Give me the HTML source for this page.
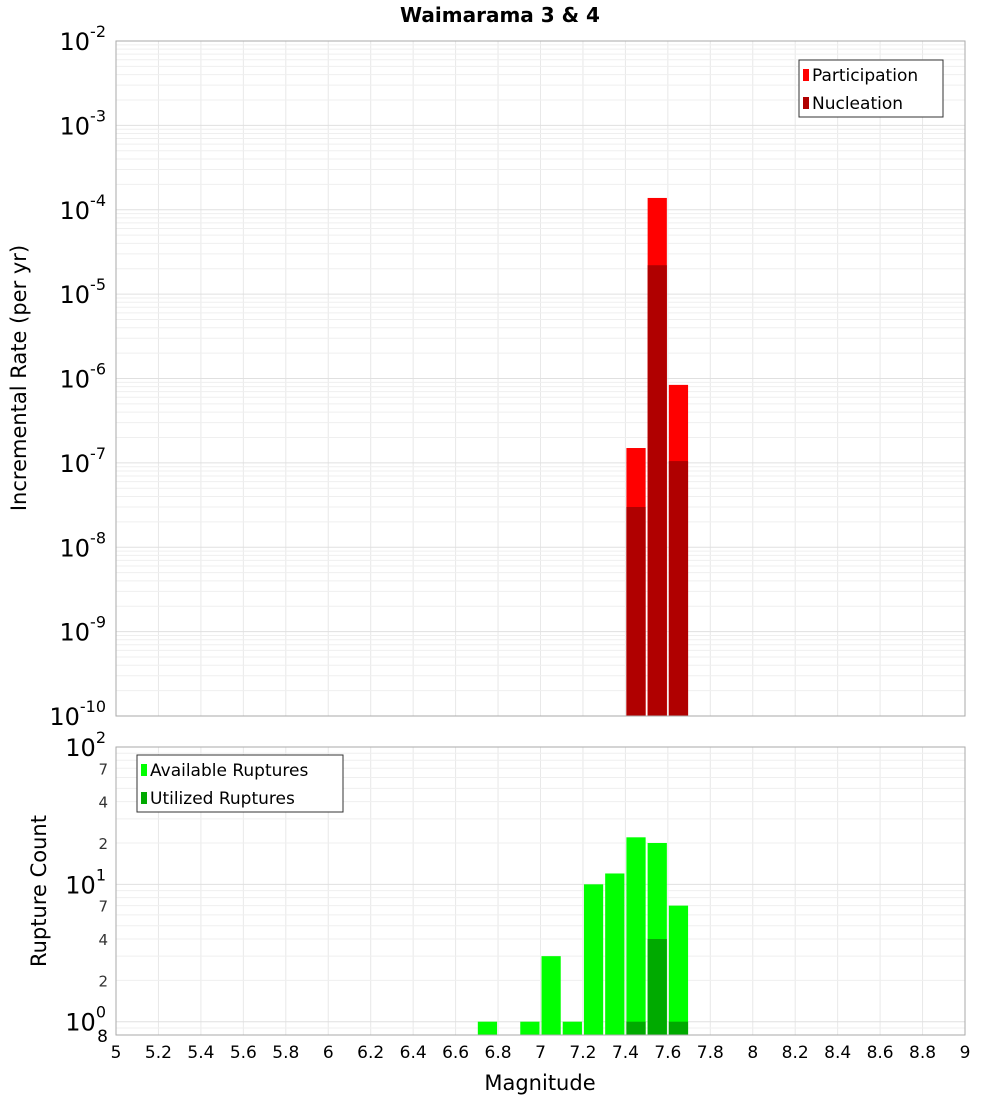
<!DOCTYPE html>
<html><head><meta charset="utf-8"><style>
body{margin:0;background:#fff;}
svg{display:block;font-family:"DejaVu Sans","Liberation Sans",sans-serif;}
</style></head><body>
<svg id="chart" width="1000" height="1100" xmlns="http://www.w3.org/2000/svg">
<text x="500" y="22" text-anchor="middle" font-size="20" font-weight="bold">Waimarama 3 &amp; 4</text>
<g id="gtop"></g>
<g id="gbot"></g>
<text x="540" y="1090" text-anchor="middle" font-size="21">Magnitude</text>
<text transform="translate(26,378) rotate(-90)" text-anchor="middle" font-size="21">Incremental Rate (per yr)</text>
<text transform="translate(46,891) rotate(-90)" text-anchor="middle" font-size="21">Rupture Count</text>
</svg>
<script>
const rateMags=[7.45,7.55,7.65];
const participation=[1.5e-7,1.38e-4,8.4e-7];
const nucleation=[3e-8,2.2e-5,1.05e-7];
const countMags=[6.75,6.95,7.05,7.15,7.25,7.35,7.45,7.55,7.65];
const available=[1,1,3,1,10,12,22,20,7];
const utilizedMags=[7.45,7.55,7.65];
const utilized=[1,4,1];
const xTicks=[5,5.2,5.4,5.6,5.8,6,6.2,6.4,6.6,6.8,7,7.2,7.4,7.6,7.8,8,8.2,8.4,8.6,8.8,9];
const topDecades=[-10,-9,-8,-7,-6,-5,-4,-3,-2];
const botDecades=[0,1,2];
const botMinorLabels=[2,4,7];

(function(){
const NS="http://www.w3.org/2000/svg";
const L=116,R=965;
const x=v=>L+(v-5)/4*(R-L);
const T0=41,T1=716;
const yTop=v=>T0+(-2-Math.log10(v))/8*(T1-T0);
const B0=747,B1=1035,bMin=0.8;
const yBot=v=>B0+(2-Math.log10(v))/(2-Math.log10(bMin))*(B1-B0);
function mk(p,tag,a,txt){const e=document.createElementNS(NS,tag);for(const k in a)e.setAttribute(k,a[k]);if(txt!==undefined)e.textContent=txt;p.appendChild(e);return e;}
const gTop=document.getElementById('gtop'),gBot=document.getElementById('gbot');

function frame(g,y0,y1){
  for(const t of xTicks){const l=mk(g,'line',{x1:x(t),x2:x(t),y1:y0,y2:y1,stroke:'#e8e8e8'});
    
    }
}
frame(gTop,T0,T1);
for(let d=-10;d<-2;d++)for(let m=1;m<10;m++){const v=m*Math.pow(10,d);const yy=yTop(v);
  const l=mk(gTop,'line',{x1:L,x2:R,y1:yy,y2:yy,stroke:m==1?'#e0e0e0':'#efefef'});
  
  }
frame(gBot,B0,B1);
for(let d=-1;d<2;d++)for(let m=1;m<10;m++){const v=m*Math.pow(10,d);if(v<bMin)continue;const yy=yBot(v);
  const l=mk(gBot,'line',{x1:L,x2:R,y1:yy,y2:yy,stroke:m==1?'#e0e0e0':'#efefef'});
  
  }

const bw=(x(0.1)-x(0))-2;
function bar(g,m,v,yf,base,col,name){const yy=yf(v);const r=mk(g,'rect',{x:x(m)-bw/2,y:yy,width:bw,height:base-yy,fill:col});
  
  }
rateMags.forEach((m,i)=>bar(gTop,m,participation[i],yTop,T1,'#ff0000','participation-bar'));
rateMags.forEach((m,i)=>bar(gTop,m,nucleation[i],yTop,T1,'#b00000','nucleation-bar'));
countMags.forEach((m,i)=>bar(gBot,m,available[i],yBot,B1,'#00ff00','available-bar'));
utilizedMags.forEach((m,i)=>bar(gBot,m,utilized[i],yBot,B1,'#00aa00','utilized-bar'));

const f1=mk(gTop,'rect',{x:L,y:T0,width:R-L,height:T1-T0,fill:'none',stroke:'#aaa'});


const f2=mk(gBot,'rect',{x:L,y:B0,width:R-L,height:B1-B0,fill:'none',stroke:'#aaa'});



function decLabel(g,yy,exp){const t=mk(g,'text',{x:106,y:yy+9,'text-anchor':'end','font-size':24});
  
  
  mk(t,'tspan',{},'10');mk(t,'tspan',{dy:-13,'font-size':16},String(exp));}
topDecades.forEach(d=>decLabel(gTop,yTop(Math.pow(10,d)),d));
botDecades.forEach(d=>decLabel(gBot,yBot(Math.pow(10,d)),d));
for(let d=0;d<2;d++)botMinorLabels.forEach(m=>{const t=mk(gBot,'text',{x:108,y:yBot(m*Math.pow(10,d))+6,'text-anchor':'end','font-size':15,fill:'#333'},String(m));
  
  });
const t8=mk(gBot,'text',{x:108,y:1042,'text-anchor':'end','font-size':17},'8');



xTicks.forEach(t=>{const e=mk(gBot,'text',{x:x(t),y:1058,'text-anchor':'middle','font-size':17},String(t));
  
  });

function legend(g,bx,by,w,items){const box=mk(g,'rect',{x:bx,y:by,width:w,height:57,fill:'#fff',stroke:'#333'});
  
  
  items.forEach((it,i)=>{const sw=mk(g,'rect',{x:bx+4,y:by+9+i*28,width:6,height:12,fill:it[1]});
    
    
    const tx=mk(g,'text',{x:bx+13,y:by+21+i*28,'font-size':17},it[0]);
    
    });}
legend(gTop,799,60,144,[['Participation','#ff0000'],['Nucleation','#b00000']]);
legend(gBot,137,755,206,[['Available Ruptures','#00ff00'],['Utilized Ruptures','#00aa00']]);
})();
</script>
</body></html>
